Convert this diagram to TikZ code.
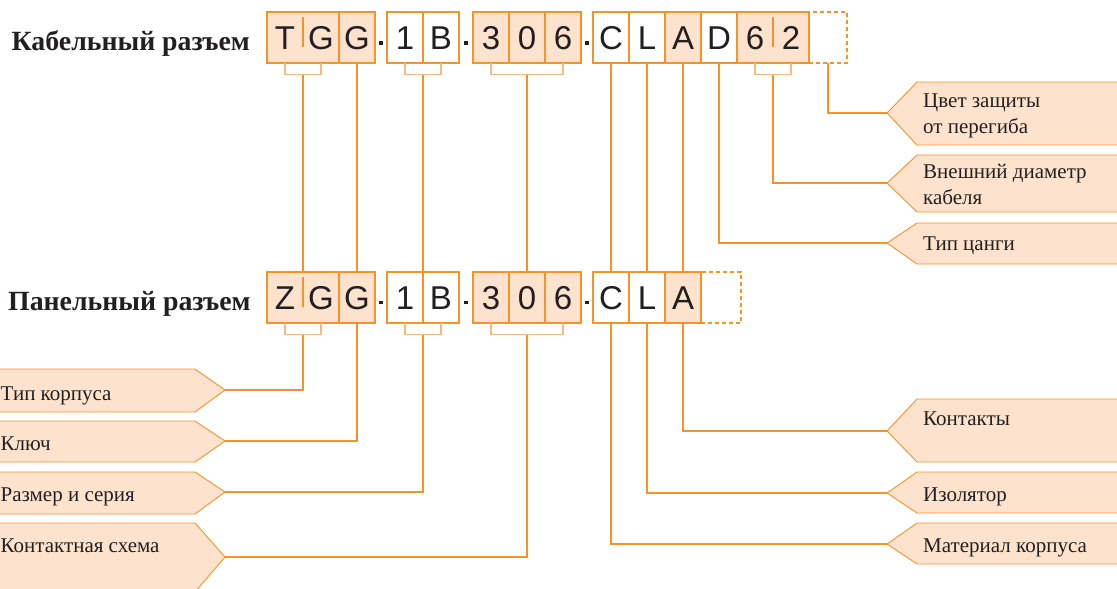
\documentclass[tikz,border=0pt]{standalone}
\usepackage{fontspec}
\setmainfont{Liberation Serif}
\newfontfamily\cellfont{Liberation Sans}
\usepackage{tikz}

\definecolor{orng}{RGB}{247,146,40}
\definecolor{lorng}{RGB}{249,184,130}
\definecolor{peach}{RGB}{253,227,205}
\definecolor{ink}{RGB}{35,31,32}

\tikzset{
  cell/.style={minimum width=36pt, minimum height=51pt, inner sep=0pt, outer sep=0pt,
    text height=23pt, text depth=0pt, text=ink,
    font=\cellfont\fontsize{33}{33}\selectfont},
  frame/.style={draw=orng, line width=1.8pt},
  split/.style={draw=orng, line width=1.4pt},
  openbox/.style={cell, draw=orng, line width=1.8pt, dash pattern=on 4pt off 3pt},
  dotm/.style={fill=ink, minimum size=3.2pt, inner sep=0pt},
  brk/.style={draw=lorng, line width=1.4pt},
  link/.style={draw=orng, line width=1.1pt},
  tag/.style={fill=peach, draw=orng, line width=0.9pt},
  tagtext/.style={inner sep=0pt, anchor=base west, align=left, text=ink,
    font=\fontsize{21}{26}\selectfont},
  head/.style={inner sep=0pt, anchor=base west, text=ink,
    font=\bfseries\fontsize{27.8}{28}\selectfont}
}

\begin{document}
\begin{tikzpicture}[x=1pt, y=-1pt]
  \useasboundingbox (0,0) rectangle (1117,589);

  % headings
  \node[head] (kab) at (11.5,50.5) {Кабельный разъем};
  \node[head] (pan) at (8,310.5) {Панельный разъем};

  % cable connector code
  \node[openbox] (kX) at (828,37.5) [minimum width=38pt] {};
  \foreach \nm/\cx/\ch/\fl in {kT/285/T/peach, kG1/321/G/peach, kG2/357/G/peach,
      k1/405/1/white, kB/441/B/white,
      k3/491/3/peach, k0/527/0/peach, k6/563/6/peach,
      kC/611/C/white, kL/647/L/white, kA/683/A/peach, kD/719/D/white,
      k6b/755/6/peach, k2/791/2/peach}
    \node[cell, fill=\fl] (\nm) at (\cx,37.5) {\ch};

  % panel connector code
  \node[openbox] (pX) at (721,297.5) [minimum width=40pt] {};
  \foreach \nm/\cx/\ch/\fl in {pZ/285/Z/peach, pG1/321/G/peach, pG2/357/G/peach,
      p1/405/1/white, pB/441/B/white,
      p3/491/3/peach, p0/527/0/peach, p6/563/6/peach,
      pC/611/C/white, pL/647/L/white, pA/683/A/peach}
    \node[cell, fill=\fl] (\nm) at (\cx,297.5) {\ch};

  % group frames and dividers
  \foreach \a/\b in {kT/kG2, k1/kB, k3/k6, kC/k2, pZ/pG2, p1/pB, p3/p6, pC/pA}
    \draw[frame] (\a.north west) rectangle (\b.south east);
  \foreach \a in {kG1, k1, k3, k0, kC, kL, kA, kD, pG1, p1, p3, p0, pC, pL}
    \draw[frame] (\a.north east) -- (\a.south east);
  \foreach \a in {kT, k6b, pZ}
    \draw[split] ([yshift=-5pt]\a.north east) -- ([yshift=16pt]\a.south east);

  % separating dots
  \foreach \nm/\cx in {d1/381, d2/466, d3/587}
  {
    \node[dotm] (k\nm) at (\cx,43) {};
    \node[dotm] (p\nm) at (\cx,302.5) {};
  }

  % brackets under pairs and triples
  \foreach \a/\b in {kT/kG1, k1/kB, k3/k6, k6b/k2, pZ/pG1, p1/pB, p3/p6}
    \draw[brk] (\a.south) -- ++(0,11.5) -| (\b.south);

  % tags on the right
  \draw[tag] (887,113) coordinate (cvet) -- (917,82) -- (1125,82) -- (1125,145) -- (917,145) -- cycle;
  \draw[tag] (887,183) coordinate (diam) -- (917,155) -- (1125,155) -- (1125,212) -- (917,212) -- cycle;
  \draw[tag] (887,243) coordinate (tsang) -- (917,223) -- (1125,223) -- (1125,264) -- (917,264) -- cycle;
  \draw[tag] (887,431) coordinate (kont) -- (917,399) -- (1125,399) -- (1125,462) -- (917,462) -- cycle;
  \draw[tag] (887,493) coordinate (izol) -- (917,472) -- (1125,472) -- (1125,513) -- (917,513) -- cycle;
  \draw[tag] (887,544) coordinate (mat) -- (917,523) -- (1125,523) -- (1125,564) -- (917,564) -- cycle;

  % tags on the left
  \draw[tag] (225,390) coordinate (korp) -- (195,369) -- (-10,369) -- (-10,412) -- (195,412) -- cycle;
  \draw[tag] (225,441) coordinate (kluch) -- (195,421) -- (-10,421) -- (-10,462) -- (195,462) -- cycle;
  \draw[tag] (225,492) coordinate (razm) -- (195,472) -- (-10,472) -- (-10,514) -- (195,514) -- cycle;
  \draw[tag] (225,557) coordinate (shem) -- (195,523) -- (-10,523) -- (-10,592) -- (195,592) -- cycle;

  \node[tagtext] (tcvet) at (923,133.5) {Цвет защиты\\от перегиба};
  \node[tagtext] (tdiam) at (923,204) {Внешний диаметр\\кабеля};
  \node[tagtext] (ttsang) at (923,250) {Тип цанги};
  \node[tagtext] (tkont) at (923,425.5) {Контакты};
  \node[tagtext] (tizol) at (923,501.5) {Изолятор};
  \node[tagtext] (tmat) at (923,552) {Материал корпуса};
  \node[tagtext] (tkorp) at (0.5,400) {Тип корпуса};
  \node[tagtext] (tkluch) at (0.5,450.5) {Ключ};
  \node[tagtext] (trazm) at (0.5,501.5) {Размер и серия};
  \node[tagtext] (tshem) at (0.5,552.5) {Контактная схема};

  % cable code to panel code
  \draw[link] ([yshift=-11.5pt]kT.south east) -- (pZ.north east);
  \draw[link] (kG2.south) -- (pG2.north);
  \draw[link] ([yshift=-11.5pt]k1.south east) -- (p1.north east);
  \draw[link] ([yshift=-11.5pt]k0.south) -- (p0.north);
  \foreach \a in {C, L, A}
    \draw[link] (k\a.south) -- (p\a.north);

  % cable code to right tags
  \draw[link] (kX.south) |- (cvet);
  \draw[link, line width=1.8pt] ([yshift=-11.5pt]k6b.south east) |- (diam);
  \draw[link] (kD.south) |- (tsang);

  % panel code to tags
  \draw[link] ([yshift=-11.5pt]pZ.south east) |- (korp);
  \draw[link] (pG2.south) |- (kluch);
  \draw[link] ([yshift=-11.5pt]p1.south east) |- (razm);
  \draw[link] ([yshift=-11.5pt]p0.south) |- (shem);
  \draw[link] (pA.south) |- (kont);
  \draw[link] (pL.south) |- (izol);
  \draw[link] (pC.south) |- (mat);
\end{tikzpicture}
\end{document}
